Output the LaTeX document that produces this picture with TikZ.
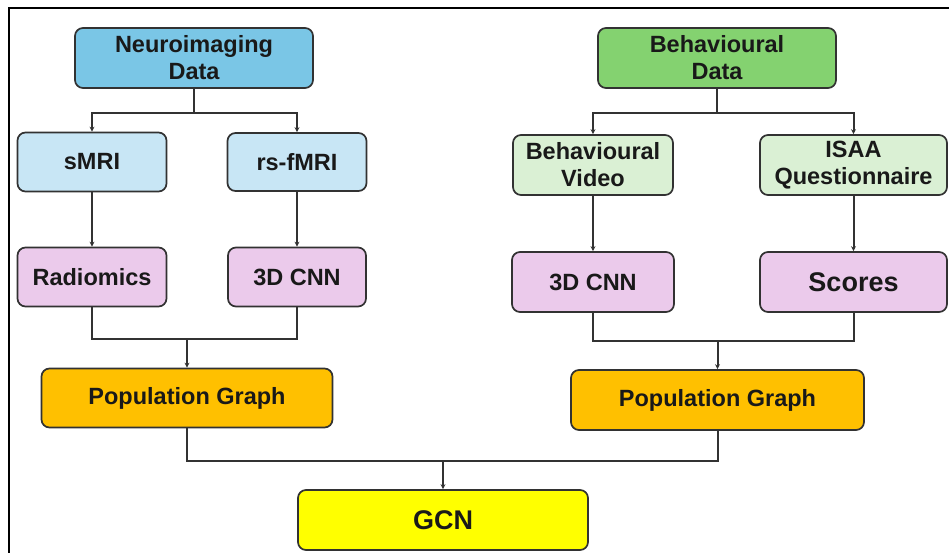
\documentclass[tikz,border=0pt]{standalone}
\usepackage{fontspec}
\setmainfont{Liberation Sans}
\usetikzlibrary{arrows.meta}
\definecolor{neuroC}{RGB}{122,198,230}
\definecolor{lblueC}{RGB}{200,230,245}
\definecolor{greenC}{RGB}{132,210,112}
\definecolor{lgreenC}{RGB}{218,240,212}
\definecolor{pinkC}{RGB}{235,202,235}
\definecolor{orangeC}{RGB}{255,192,0}
\definecolor{yellowC}{RGB}{255,255,0}
\definecolor{edgeC}{RGB}{50,50,50}
\tikzset{
  box/.style={draw=edgeC, line width=1.7pt, rounded corners=8pt, align=center,
    inner sep=0pt, font=\fontsize{23.5}{27}\selectfont\bfseries, text=black!90},
  conn/.style={draw=edgeC, line width=2pt},
  arr/.style={conn, -{Stealth[length=5pt,width=5pt]}},
}
\begin{document}
\begin{tikzpicture}[x=1pt,y=-1pt]
\useasboundingbox (0,0) rectangle (949,553);
\fill[white] (0,0) rectangle (949,553);
\draw[line width=2.2pt, black] (9,553) -- (9,8) -- (949,8);

% left branch
\node[box, fill=neuroC, minimum width=238, minimum height=60] (neuro) at (194,58) {Neuroimaging\\Data};
\node[box, fill=lblueC, minimum width=149, minimum height=59] (smri) at (92,162) {sMRI};
\node[box, fill=lblueC, minimum width=139, minimum height=58] (rsf) at (297,162) {rs-fMRI};
\node[box, fill=pinkC, minimum width=149, minimum height=59] (rad) at (92,277) {Radiomics};
\node[box, fill=pinkC, minimum width=138, minimum height=59] (cnnA) at (297,277) {3D CNN};
\node[box, fill=orangeC, minimum width=291, minimum height=59] (pgA) at (187,398) {Population Graph};

% right branch
\node[box, fill=greenC, minimum width=238, minimum height=60] (behav) at (717,58) {Behavioural\\Data};
\node[box, fill=lgreenC, minimum width=160, minimum height=60] (video) at (593,165) {Behavioural\\Video};
\node[box, fill=lgreenC, minimum width=187, minimum height=60] (isaa) at (853.5,165) {ISAA\\Questionnaire};
\node[box, fill=pinkC, minimum width=162, minimum height=60] (cnnB) at (593,282) {3D CNN};
\node[box, fill=pinkC, minimum width=187, minimum height=60, font=\fontsize{27}{30}\selectfont\bfseries] (scores) at (853.5,282) {Scores};
\node[box, fill=orangeC, minimum width=293, minimum height=60] (pgB) at (717.5,400) {Population Graph};

\node[box, fill=yellowC, minimum width=290, minimum height=60, font=\fontsize{27}{30}\selectfont\bfseries] (gcn) at (443,520) {GCN};

% connectors left
\coordinate (nb) at (194,113);
\draw[conn] (neuro.south) -- (nb);
\draw[arr] (nb) -| (smri.north);
\draw[arr] (nb) -| (rsf.north);
\draw[arr] (smri.south) -- (rad.north);
\draw[arr] (rsf.south) -- (cnnA.north);
\coordinate (ma) at (187,339);
\draw[conn] (rad.south) |- (ma) -| (cnnA.south);
\draw[arr] (ma) -- (pgA.north);

% connectors right
\coordinate (bb) at (717,113);
\draw[conn] (behav.south) -- (bb);
\draw[arr] (bb) -| (video.north);
\draw[arr] (bb) -| (isaa.north);
\draw[arr] (video.south) -- (cnnB.north);
\draw[arr] (isaa.south) -- (scores.north);
\coordinate (mb) at (717.5,341);
\draw[conn] (cnnB.south) |- (mb) -| (scores.south);
\draw[arr] (mb) -- (pgB.north);

% to GCN
\coordinate (mg) at (443,461);
\draw[conn] (pgA.south) |- (mg) -| (pgB.south);
\draw[arr] (mg) -- (gcn.north);
\end{tikzpicture}
\end{document}
